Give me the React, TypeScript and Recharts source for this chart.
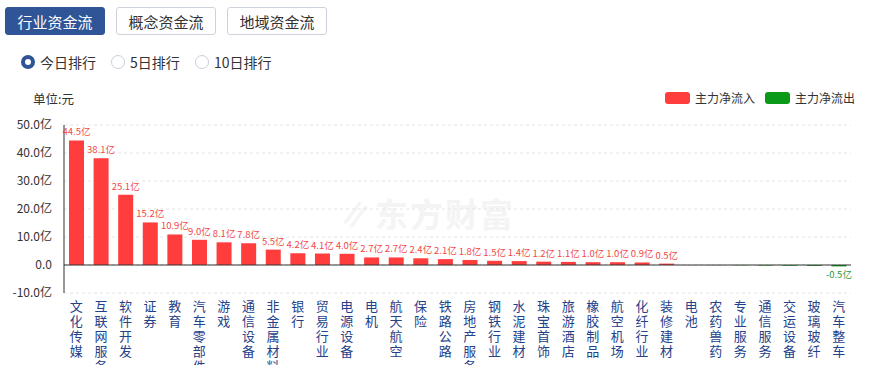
import React from "react";
import { BarChart, Bar, XAxis, YAxis, CartesianGrid, ReferenceLine, Cell, LabelList } from "recharts";

const categories = ["文化传媒","互联网服务","软件开发","证券","教育","汽车零部件","游戏","通信设备","非金属材料","银行","贸易行业","电源设备","电机","航天航空","保险","铁路公路","房地产服务","钢铁行业","水泥建材","珠宝首饰","旅游酒店","橡胶制品","航空机场","化纤行业","装修建材","电池","农药兽药","专业服务","通信服务","交运设备","玻璃玻纤","汽车整车"];
const values = [44.5,38.1,25.1,15.2,10.9,9.0,8.1,7.8,5.5,4.2,4.1,4.0,2.7,2.7,2.4,2.1,1.8,1.5,1.4,1.2,1.1,1.0,1.0,0.9,0.5,-0.02,-0.05,-0.1,-0.2,-0.25,-0.3,-0.5];
const yTicks = [-10, 0, 10, 20, 30, 40, 50];

const data = categories.map((name, i) => ({ name, value: values[i] }));

const RED = "#ff3d3d";
const GREEN = "#0a9a17";
const FONT = "'Noto Sans CJK SC', 'Noto Sans', sans-serif";

const XTick = (props: any) => {
  const { x, y, payload } = props;
  const chars = String(payload.value).split("");
  return (
    <g>
      {chars.map((c: string, i: number) => (
        <text key={i} x={x} y={y + 18 + i * 15} textAnchor="middle" fontSize={13} fill="#24418a" fontFamily={FONT}>
          {c}
        </text>
      ))}
    </g>
  );
};

const BarLabel = (props: any) => {
  const { x, y, width, height, value } = props;
  if (Math.abs(value) < 0.5) return null;
  const top = Math.min(y, y + height);
  const bottom = Math.max(y, y + height);
  const cx = x + width / 2;
  if (value >= 0) {
    return (
      <text x={cx} y={top - 5} textAnchor="middle" fontSize={9.5} fill="#f04848" fontFamily={FONT}>
        {value.toFixed(1)}亿
      </text>
    );
  }
  return (
    <text x={cx} y={bottom + 12} textAnchor="middle" fontSize={9.5} fill="#2e9a3a" fontFamily={FONT}>
      {value.toFixed(1)}亿
    </text>
  );
};

const btnBase: React.CSSProperties = {
  position: "absolute",
  top: 7,
  height: 28,
  width: 100,
  boxSizing: "border-box",
  borderRadius: 3,
  fontSize: 15,
  display: "flex",
  alignItems: "center",
  justifyContent: "center",
  fontFamily: FONT,
};

const Radio = ({ left, selected, label }: { left: number; selected: boolean; label: string }) => (
  <div style={{ position: "absolute", left, top: 52, height: 20, display: "flex", alignItems: "center", fontFamily: FONT, fontSize: 14, color: "#333" }}>
    <div
      style={{
        width: 14,
        height: 14,
        boxSizing: "border-box",
        borderRadius: "50%",
        border: selected ? "4px solid #2f5597" : "1px solid #c8d0dc",
        background: "#fff",
        marginRight: 5,
      }}
    />
    <span>{label}</span>
  </div>
);

export default function App() {
  return (
    <div style={{ position: "absolute", left: 0, top: 0, width: 870, height: 365, background: "#fff", overflow: "hidden", fontFamily: FONT }}>
      <div style={{ ...btnBase, left: 5, background: "#2f5597", color: "#fff", border: "1px solid #2f5597" }}>行业资金流</div>
      <div style={{ ...btnBase, left: 116, background: "#fff", color: "#333", border: "1px solid #cdd3dc" }}>概念资金流</div>
      <div style={{ ...btnBase, left: 227, background: "#fff", color: "#333", border: "1px solid #cdd3dc" }}>地域资金流</div>

      <Radio left={21} selected={true} label="今日排行" />
      <Radio left={111} selected={false} label="5日排行" />
      <Radio left={195} selected={false} label="10日排行" />

      <div style={{ position: "absolute", left: 33, top: 89, fontSize: 12.5, color: "#333" }}>单位:元</div>

      <div style={{ position: "absolute", left: 665, top: 92, width: 25, height: 12, borderRadius: 3, background: RED }} />
      <div style={{ position: "absolute", left: 695, top: 89, fontSize: 12, color: "#333", lineHeight: "18px" }}>主力净流入</div>
      <div style={{ position: "absolute", left: 765, top: 92, width: 25, height: 12, borderRadius: 3, background: GREEN }} />
      <div style={{ position: "absolute", left: 795, top: 89, fontSize: 12, color: "#333", lineHeight: "18px" }}>主力净流出</div>

      <div style={{ position: "absolute", left: 336, top: 194, fontSize: 33, fontWeight: 700, color: "#f4f4f4", letterSpacing: 2, fontFamily: FONT, lineHeight: "38px" }}>
        <span style={{ fontStyle: "italic", marginRight: 4 }}>∥</span>东方财富
      </div>

      <div style={{ position: "absolute", left: 0, top: 0 }}>
        <BarChart width={870} height={365} data={data} margin={{ top: 125, right: 19, bottom: 0, left: 4 }} barSize={15}>
          <CartesianGrid vertical={false} stroke="#e4e4e4" strokeDasharray="3 3" />
          <XAxis dataKey="name" axisLine={false} tickLine={false} tickSize={0} tickMargin={0} height={72} interval={0} tick={<XTick />} />
          <YAxis
            width={60}
            domain={[-10, 50]}
            ticks={yTicks}
            interval={0}
            axisLine={{ stroke: "#333" }}
            tickLine={false}
            tickMargin={6}
            tick={{ fontSize: 12, fill: "#333", fontFamily: FONT }}
            tickFormatter={(v: number) => (v === 0 ? "0.0" : v.toFixed(1) + "亿")}
          />
          <ReferenceLine y={0} stroke="#333" strokeWidth={1} />
          <Bar dataKey="value" isAnimationActive={false}>
            {data.map((d, i) => (
              <Cell key={i} fill={d.value >= 0 ? RED : GREEN} />
            ))}
            <LabelList dataKey="value" content={<BarLabel />} />
          </Bar>
        </BarChart>
      </div>
    </div>
  );
}
